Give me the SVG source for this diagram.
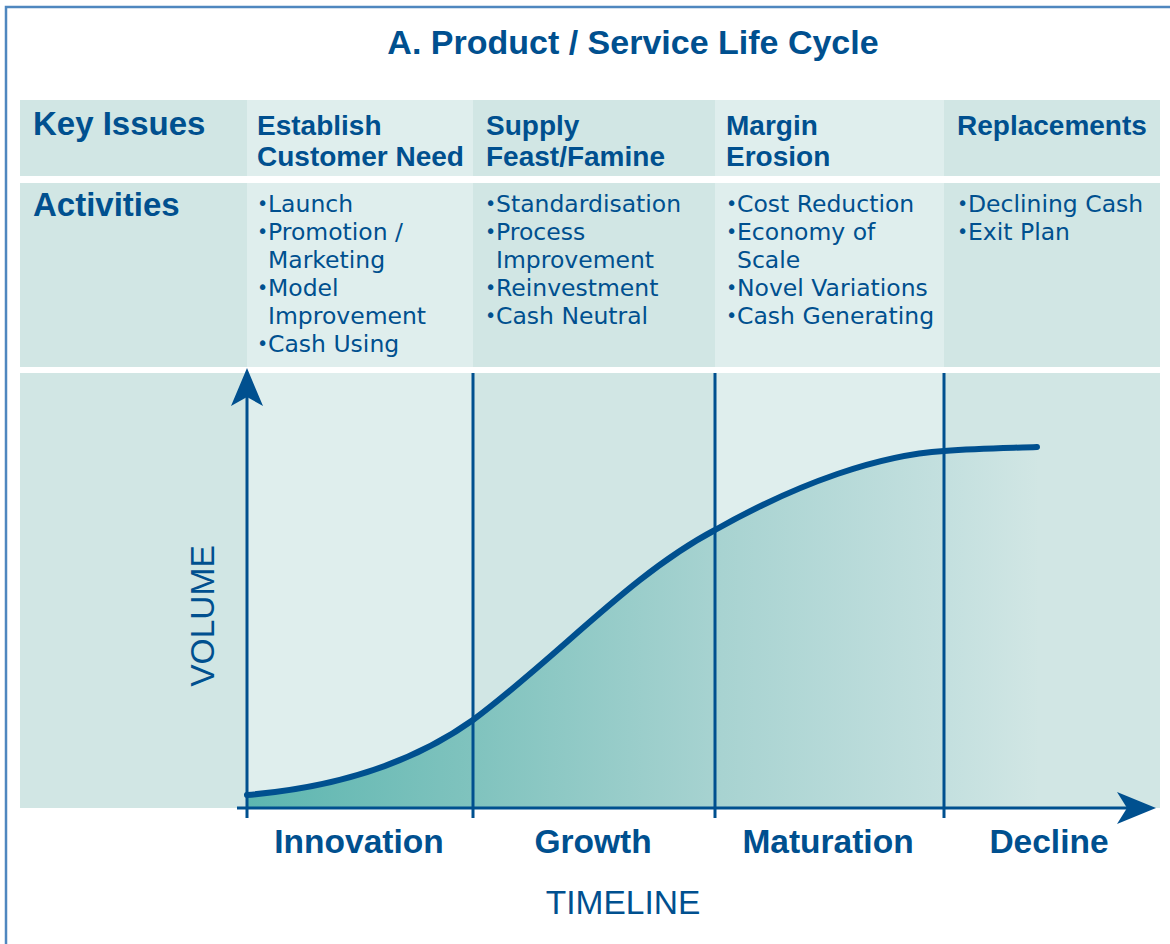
<svg xmlns="http://www.w3.org/2000/svg" width="1170" height="944" viewBox="0 0 1170 944">
<style>
.hd{font-family:"Liberation Sans",Arial,sans-serif;font-weight:bold;fill:#00508f}
.it{font-family:"DejaVu Sans","Liberation Sans",sans-serif;font-size:23.5px;fill:#00508f}
.b{font-size:19px}
.dark{fill:#d1e6e4}
.light{fill:#dfeeed}
.ln{stroke:#00508f;stroke-width:3;fill:none}
</style>
<defs>
<linearGradient id="g" gradientUnits="userSpaceOnUse" x1="247" y1="0" x2="1040" y2="0">
<stop offset="0" stop-color="#5db6b0"/>
<stop offset="0.285" stop-color="#80c3be"/>
<stop offset="0.6" stop-color="#a8d3d1"/>
<stop offset="0.885" stop-color="#c4e0df"/>
<stop offset="1" stop-color="#d1e6e4"/>
</linearGradient>
</defs>
<rect x="0" y="0" width="1170" height="944" fill="#ffffff"/>
<path d="M6,944 V7 H1170" fill="none" stroke="#4f87bf" stroke-width="2.5"/>
<text class="hd" x="633" y="54" font-size="34" text-anchor="middle">A. Product / Service Life Cycle</text>

<g id="row-key-issues">
<rect class="dark" x="20" y="100" width="227" height="76"/>
<rect class="light" x="247" y="100" width="226" height="76"/>
<rect class="dark" x="473" y="100" width="242" height="76"/>
<rect class="light" x="715" y="100" width="229" height="76"/>
<rect class="dark" x="944" y="100" width="216" height="76"/>
<text class="hd" x="33" y="135" font-size="33">Key Issues</text>
<text class="hd" font-size="28"><tspan x="257" y="135">Establish</tspan><tspan x="257" y="166">Customer Need</tspan></text>
<text class="hd" font-size="28"><tspan x="486" y="135">Supply</tspan><tspan x="486" y="166">Feast/Famine</tspan></text>
<text class="hd" font-size="28"><tspan x="726" y="135">Margin</tspan><tspan x="726" y="166">Erosion</tspan></text>
<text class="hd" x="957" y="135" font-size="28">Replacements</text>
</g>

<g id="row-activities">
<rect class="dark" x="20" y="183" width="227" height="184"/>
<rect class="light" x="247" y="183" width="226" height="184"/>
<rect class="dark" x="473" y="183" width="242" height="184"/>
<rect class="light" x="715" y="183" width="229" height="184"/>
<rect class="dark" x="944" y="183" width="216" height="184"/>
<text class="hd" x="33" y="216" font-size="33">Activities</text>
<text class="it"><tspan class="b" x="257" y="210">•</tspan><tspan x="268" y="212">Launch</tspan><tspan class="b" x="257" y="238">•</tspan><tspan x="268" y="240">Promotion /</tspan><tspan x="268" y="268">Marketing</tspan><tspan class="b" x="257" y="294">•</tspan><tspan x="268" y="296">Model</tspan><tspan x="268" y="324">Improvement</tspan><tspan class="b" x="257" y="350">•</tspan><tspan x="268" y="352">Cash Using</tspan></text>
<text class="it"><tspan class="b" x="485" y="210">•</tspan><tspan x="496" y="212">Standardisation</tspan><tspan class="b" x="485" y="238">•</tspan><tspan x="496" y="240">Process</tspan><tspan x="496" y="268">Improvement</tspan><tspan class="b" x="485" y="294">•</tspan><tspan x="496" y="296">Reinvestment</tspan><tspan class="b" x="485" y="322">•</tspan><tspan x="496" y="324">Cash Neutral</tspan></text>
<text class="it"><tspan class="b" x="726" y="210">•</tspan><tspan x="737" y="212">Cost Reduction</tspan><tspan class="b" x="726" y="238">•</tspan><tspan x="737" y="240">Economy of</tspan><tspan x="737" y="268">Scale</tspan><tspan class="b" x="726" y="294">•</tspan><tspan x="737" y="296">Novel Variations</tspan><tspan class="b" x="726" y="322">•</tspan><tspan x="737" y="324">Cash Generating</tspan></text>
<text class="it"><tspan class="b" x="957" y="210">•</tspan><tspan x="968" y="212">Declining Cash</tspan><tspan class="b" x="957" y="238">•</tspan><tspan x="968" y="240">Exit Plan</tspan></text>
</g>

<g id="chart">
<rect class="dark" x="20" y="373" width="227" height="435"/>
<rect class="light" x="247" y="373" width="226" height="435"/>
<rect class="dark" x="473" y="373" width="242" height="435"/>
<rect class="light" x="715" y="373" width="229" height="435"/>
<rect class="dark" x="944" y="373" width="216" height="435"/>
<path d="M247,795 C330,788 410,765 473,720 C560,655 630,575 715,530 C800,482 880,455 944,451 C980,448 1010,448 1037,447 L1037,808 L247,808 Z" fill="url(#g)"/>
<text font-family="Liberation Sans,Arial,sans-serif" font-size="33.5" fill="#00508f" text-anchor="middle" transform="translate(214,616) rotate(-90)">VOLUME</text>
</g>

<g id="connectors">
<line class="ln" x1="473" y1="373" x2="473" y2="818"/>
<line class="ln" x1="715" y1="373" x2="715" y2="818"/>
<line class="ln" x1="944" y1="373" x2="944" y2="818"/>
<line class="ln" x1="247" y1="818" x2="247" y2="396"/>
<polygon points="247,368 263,406 247,397 231,406" fill="#00508f"/>
<line class="ln" x1="237" y1="808" x2="1128" y2="808"/>
<polygon points="1156,808 1117,824 1127,808 1117,792" fill="#00508f"/>
<path d="M247,795 C330,788 410,765 473,720 C560,655 630,575 715,530 C800,482 880,455 944,451 C980,448 1010,448 1037,447" fill="none" stroke="#00508f" stroke-width="6" stroke-linecap="round"/>
</g>

<g id="phase-labels">
<text class="hd" font-size="33.5" text-anchor="middle" x="359" y="853">Innovation</text>
<text class="hd" font-size="33.5" text-anchor="middle" x="593" y="853">Growth</text>
<text class="hd" font-size="33.5" text-anchor="middle" x="828" y="853">Maturation</text>
<text class="hd" font-size="33.5" text-anchor="middle" x="1049" y="853">Decline</text>
<text font-family="Liberation Sans,Arial,sans-serif" font-size="33.5" fill="#00508f" text-anchor="middle" x="623" y="914">TIMELINE</text>
</g>
</svg>
